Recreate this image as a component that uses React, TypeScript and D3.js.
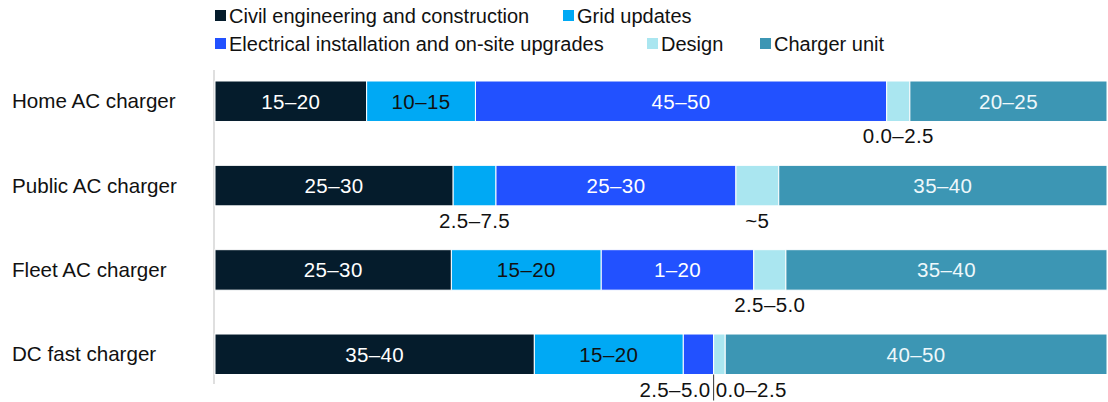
import React from "react";
import * as d3 from "d3";

const categories = ["Home AC charger", "Public AC charger", "Fleet AC charger", "DC fast charger"];
const seriesNames = [
  "Civil engineering and construction",
  "Grid updates",
  "Electrical installation and on-site upgrades",
  "Design",
  "Charger unit",
];
const seriesColors = ["#051c2c", "#00a9f4", "#2251ff", "#aae6f0", "#3c96b4"];
const seriesTextColors = ["#ffffff", "#111111", "#ffffff", "#111111", "#eef8fb"];

// share of bar width (%), per category, in series order
const civilValues = [17.0, 26.7, 26.5, 35.8];
const gridValues = [12.2, 4.8, 16.8, 16.7];
const electricalValues = [46.1, 26.9, 17.1, 3.4];
const designValues = [2.6, 4.8, 3.6, 1.3];
const chargerValues = [22.1, 36.8, 36.0, 42.8];

// range labels
const civilLabels = ["15–20", "25–30", "25–30", "35–40"];
const gridLabels = ["10–15", "2.5–7.5", "15–20", "15–20"];
const electricalLabels = ["45–50", "25–30", "1–20", "2.5–5.0"];
const designLabels = ["0.0–2.5", "~5", "2.5–5.0", "0.0–2.5"];
const chargerLabels = ["20–25", "35–40", "35–40", "40–50"];

const W = 1108;
const H = 402;
const FONT = "'Liberation Sans', Arial, Helvetica, sans-serif";

// legend layout rows
const legendItems = [
  { i: 0, x: 215, row: 0 },
  { i: 1, x: 563, row: 0 },
  { i: 2, x: 215, row: 1 },
  { i: 3, x: 647, row: 1 },
  { i: 4, x: 760, row: 1 },
];

export default function App() {
  const values = [civilValues, gridValues, electricalValues, designValues, chargerValues];
  const labels = [civilLabels, gridLabels, electricalLabels, designLabels, chargerLabels];

  const x = d3.scaleLinear().domain([0, 100]).range([215, 1107]);
  const y = d3
    .scaleBand<string>()
    .domain(categories)
    .range([81, 374.5])
    .paddingInner(0.52)
    .paddingOuter(0);

  const rows = categories.map((cat, ci) => {
    const vals = values.map((s) => s[ci]);
    const stack = d3.cumsum(vals);
    const segs = vals.map((v, si) => ({
      si,
      x0: si === 0 ? 0 : stack[si - 1],
      x1: stack[si],
      v,
      label: labels[si][ci],
      outside: v < 6,
    }));
    return { cat, segs };
  });

  const valueFont = { fontSize: 20.5, letterSpacing: 0.4 };

  return (
    <svg
      width={W}
      height={H}
      style={{ position: "absolute", left: 0, top: 0, display: "block", background: "#fff" }}
      fontFamily={FONT}
    >
      {/* legend */}
      {legendItems.map((it) => {
        const top = it.row === 0 ? 10 : 38;
        return (
          <g key={it.i}>
            <rect x={it.x} y={top} width={11} height={11} fill={seriesColors[it.i]} />
            <text x={it.x + 14} y={top + 13} fontSize={20} fill="#111">
              {seriesNames[it.i]}
            </text>
          </g>
        );
      })}

      {/* axis line */}
      <line x1={214} x2={214} y1={70} y2={384} stroke="#d4d4d4" strokeWidth={1.5} />

      {rows.map((row) => {
        const top = y(row.cat)!;
        const bw = y.bandwidth();
        const cy = top + bw / 2;
        const below = top + bw + 22;
        const outs = row.segs.filter((s) => s.outside);
        const paired =
          outs.length === 2 && outs[1].si === outs[0].si + 1 ? outs : null;
        return (
          <g key={row.cat}>
            <text x={12} y={cy + 7} fontSize={20.6} fill="#111">
              {row.cat}
            </text>
            {row.segs.map((s) => (
              <rect
                key={s.si}
                x={x(s.x0)}
                y={top}
                width={x(s.x1) - x(s.x0)}
                height={bw}
                fill={seriesColors[s.si]}
                stroke="#fff"
                strokeWidth={1}
              />
            ))}
            {row.segs
              .filter((s) => !s.outside)
              .map((s) => (
                <text
                  key={"t" + s.si}
                  x={(x(s.x0) + x(s.x1)) / 2}
                  y={cy + 7.5}
                  {...valueFont}
                  textAnchor="middle"
                  fill={seriesTextColors[s.si]}
                >
                  {s.label}
                </text>
              ))}
            {paired ? (
              <g>
                <line
                  x1={x(paired[0].x1)}
                  x2={x(paired[0].x1)}
                  y1={top + bw}
                  y2={below + 4}
                  stroke="#333"
                  strokeWidth={1}
                />
                <text x={x(paired[0].x1) - 3} y={below} {...valueFont} textAnchor="end" fill="#111">
                  {paired[0].label}
                </text>
                <text x={x(paired[0].x1) + 2} y={below} {...valueFont} textAnchor="start" fill="#111">
                  {paired[1].label}
                </text>
              </g>
            ) : (
              outs.map((s) => (
                <text
                  key={"o" + s.si}
                  x={(x(s.x0) + x(s.x1)) / 2}
                  y={below}
                  {...valueFont}
                  textAnchor="middle"
                  fill="#111"
                >
                  {s.label}
                </text>
              ))
            )}
          </g>
        );
      })}
    </svg>
  );
}
